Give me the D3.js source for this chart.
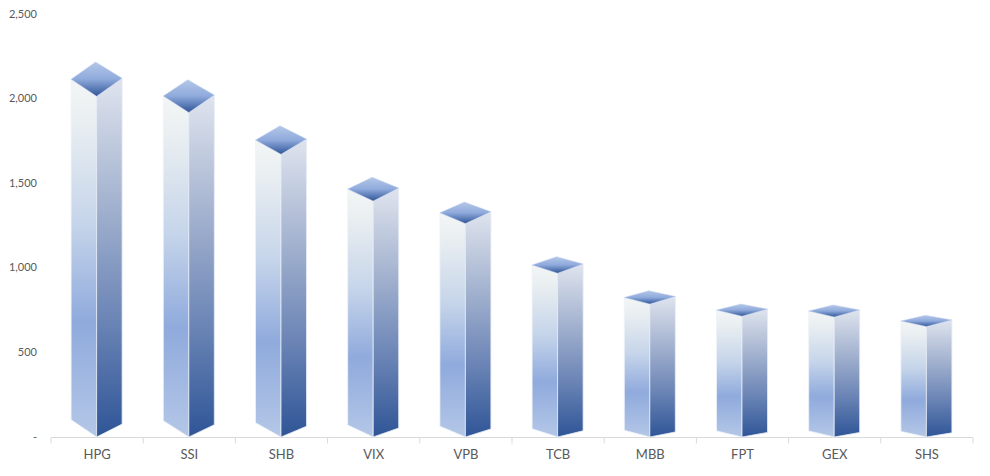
<!DOCTYPE html>
<html>
<head>
<meta charset="utf-8">
<script src="https://cdn.jsdelivr.net/npm/d3@7"></script>
<style>
  html, body { margin: 0; padding: 0; background: #fff; }
  svg { display: block; }
  text { font-family: Lato, "Open Sans", sans-serif; fill: #595959; }
  .domain { stroke: #d9d9d9; }
  .x-axis line { stroke: #d9d9d9; }
</style>
</head>
<body>
<svg id="chart" width="990" height="476"></svg>
<script>
var categories = ['HPG', 'SSI', 'SHB', 'VIX', 'VPB', 'TCB', 'MBB', 'FPT', 'GEX', 'SHS'];
var values = [2115, 2015, 1755, 1465, 1325, 1017, 825, 750, 745, 686];
var yTicks = [0, 500, 1000, 1500, 2000, 2500];

var svg = d3.select('#chart');

var x = d3.scaleBand().domain(categories).range([51, 973]);
var y = d3.scaleLinear().domain([0, 2500]).range([437, 14]);

var halfWidth = 25.5;
var depthRatio = 0.048;

// gradients for the three faces
var defs = svg.append('defs');
function gradient(id, stops) {
    var g = defs.append('linearGradient')
        .attr('id', id)
        .attr('x1', 0).attr('y1', 0).attr('x2', 0).attr('y2', 1);
    stops.forEach(function(s) {
        g.append('stop').attr('offset', s[0]).attr('stop-color', s[1]);
    });
}
gradient('leftFace', [[0, '#f3f6f5'], [0.12, '#e9eef1'], [0.4, '#c6d5ea'], [0.68, '#8faadc'], [1, '#b4c7e7']]);
gradient('rightFace', [[0, '#dfe4ee'], [0.35, '#a3b2cf'], [0.68, '#6a84b5'], [1, '#2f5597']]);
gradient('topFace', [[0, '#b4c7e7'], [0.5, '#8faadc'], [1, '#2f5597']]);

// y axis, no line, just labels
var yAxis = d3.axisLeft(y)
    .tickValues(yTicks)
    .tickSize(0)
    .tickPadding(0)
    .tickFormat(function(d) { return d === 0 ? '-' : d3.format(',')(d); });

var yG = svg.append('g')
    .attr('transform', 'translate(37,-0.5)')
    .call(yAxis);
yG.select('.domain').remove();
yG.selectAll('text').style('font-size', '11px');

// x axis
var xAxis = d3.axisBottom(x).tickSize(0).tickPadding(12);
var xG = svg.append('g')
    .attr('class', 'x-axis')
    .attr('transform', 'translate(0,437.5)')
    .call(xAxis);
xG.select('.domain').attr('d', 'M51,0H973');
xG.selectAll('text').style('font-size', '13px');

// ticks sit on the band edges
var edges = categories.map(function(c) { return x(c); }).concat([x.range()[1]]);
xG.selectAll('line.edge')
    .data(edges)
  .enter().append('line')
    .attr('class', 'edge')
    .attr('x1', function(d) { return d; })
    .attr('x2', function(d) { return d; })
    .attr('y1', 0)
    .attr('y2', 6);

var data = categories.map(function(c, i) { return { name: c, value: values[i] }; });

var bars = svg.selectAll('g.bar')
    .data(data)
  .enter().append('g')
    .attr('class', 'bar');

function geom(d) {
    var cx = x(d.name) + x.bandwidth() / 2 - 0.5;
    var base = y(0);
    var mid = y(d.value);
    var depth = (base - mid) * depthRatio;
    return {
        cx: cx, l: cx - halfWidth, r: cx + halfWidth,
        base: base, mid: mid, depth: depth,
        front: mid + depth,
        back: mid - depth
    };
}

bars.append('path')
    .attr('fill', 'url(#leftFace)')
    .attr('stroke', '#eef2f9')
    .attr('stroke-width', 0.8)
    .attr('d', function(d) {
        var g = geom(d);
        return 'M' + g.l + ',' + g.mid + 'L' + g.cx + ',' + g.front +
            'L' + g.cx + ',' + g.base + 'L' + g.l + ',' + (g.base - g.depth) + 'Z';
    });

bars.append('path')
    .attr('fill', 'url(#rightFace)')
    .attr('stroke', '#e6ebf5')
    .attr('stroke-width', 0.8)
    .attr('d', function(d) {
        var g = geom(d);
        return 'M' + g.cx + ',' + g.front + 'L' + g.r + ',' + (g.mid - 1) +
            'L' + g.r + ',' + (g.base - g.depth * 0.75) + 'L' + g.cx + ',' + g.base + 'Z';
    });

bars.append('path')
    .attr('fill', 'url(#topFace)')
    .attr('stroke', '#c5d3ec')
    .attr('stroke-width', 0.5)
    .attr('d', function(d) {
        var g = geom(d);
        return 'M' + g.l + ',' + g.mid + 'L' + (g.cx - 1) + ',' + g.back +
            'L' + g.r + ',' + (g.mid - 1) + 'L' + g.cx + ',' + g.front + 'Z';
    });
</script>
</body>
</html>
